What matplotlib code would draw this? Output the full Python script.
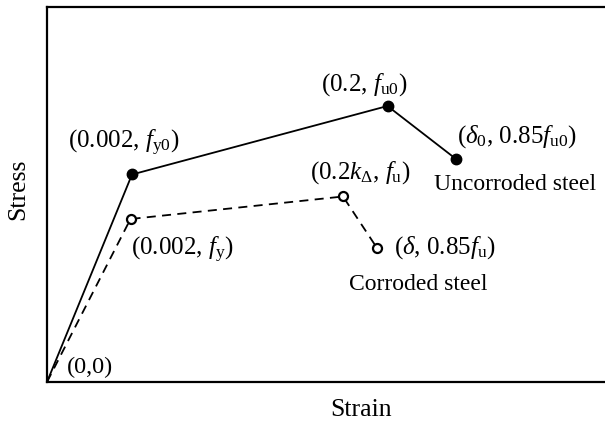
# Stress-strain model sketch: uncorroded vs corroded steel
import matplotlib
matplotlib.use('Agg')
import matplotlib.pyplot as plt

plt.rcParams['font.family'] = ['Liberation Serif', 'DejaVu Serif']
plt.rcParams['mathtext.fontset'] = 'custom'
plt.rcParams['mathtext.rm'] = 'Liberation Serif'
plt.rcParams['mathtext.it'] = 'Liberation Serif:italic'

# schematic key points (arbitrary units)
strain_uncorroded = [0, 85, 340.5, 409]
stress_uncorroded = [0, 207.5, 276, 223]
strain_corroded = [0, 83.5, 296, 330]
stress_corroded = [0, 163, 185.5, 134]

fig = plt.figure(figsize=(6.05, 4.23), dpi=100)
ax = fig.add_axes([47 / 605, 41 / 423, 558 / 605, 375 / 423])

# uncorroded: solid line with filled dots
ax.plot(strain_uncorroded, stress_uncorroded, color='black', lw=1.3)
ax.plot(strain_uncorroded[1:], stress_uncorroded[1:], 'o', color='black', ms=7.5)

# corroded: dashed line with open circles
ax.plot(strain_corroded, stress_corroded, color='black', lw=1.3, dashes=(5, 3.5))
ax.plot(strain_corroded[1:], stress_corroded[1:], 'o', mfc='white', mec='black',
        mew=1.6, ms=6.5)

ax.set_xlim(0, 558)
ax.set_ylim(0, 375)
ax.set_xticks([])
ax.set_yticks([])
for s in ['left', 'bottom', 'top']:
    ax.spines[s].set_linewidth(1.6)
ax.spines['right'].set_visible(False)

# labels (x, y in axis units, text, size)
labels = [
    (76.5, 239, r'(0.002, $f_{\mathrm{y0}}$)', 18),
    (317.5, 297, r'(0.2, $f_{\mathrm{u0}}$)', 18),
    (470, 245, r'($\delta_0$, 0.85$f_{\mathrm{u0}}$)', 18),
    (468.5, 197, 'Uncorroded steel', 17),
    (313, 209, r'(0.2$k_{\Delta}$, $f_{\mathrm{u}}$)', 18),
    (135.5, 132, r'(0.002, $f_{\mathrm{y}}$)', 18),
    (398, 134, r'($\delta$, 0.85$f_{\mathrm{u}}$)', 18),
    (371.5, 97, 'Corroded steel', 17),
    (43, 15, '(0,0)', 17.5),
]
for x, y, t, size in labels:
    ax.text(x, y, t, ha='center', va='center', fontsize=size)

fig.text(18 / 605, 1 - 189 / 423, 'Stress', rotation=90, ha='center', va='center', fontsize=18.5)
fig.text(361 / 605, 1 - 410 / 423, 'Strain', ha='center', va='center', fontsize=18.5)

fig.savefig('out.png', dpi=100)
